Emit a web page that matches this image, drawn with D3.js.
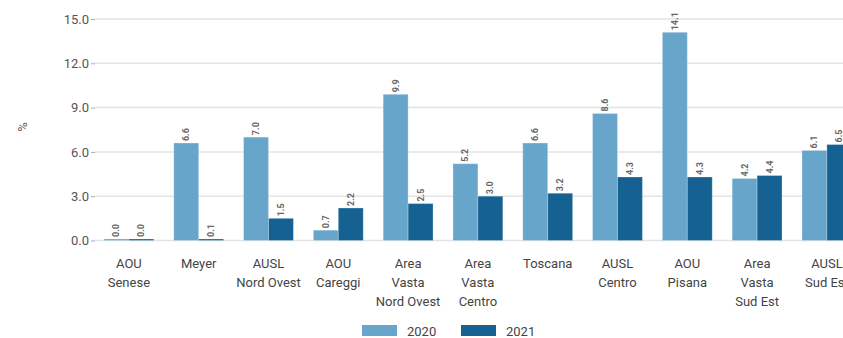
<!DOCTYPE html>
<html><head><meta charset="utf-8">
<script src="https://cdn.jsdelivr.net/npm/d3@7"></script>
<style>
html,body{margin:0;padding:0;background:#fff;}
svg{display:block;font-family:Roboto, "Open Sans", sans-serif;}
</style></head>
<body>
<svg id="c" width="843" height="338"></svg>
<script>
const categories = [["AOU","Senese"],["Meyer"],["AUSL","Nord Ovest"],["AOU","Careggi"],["Area","Vasta","Nord Ovest"],["Area","Vasta","Centro"],["Toscana"],["AUSL","Centro"],["AOU","Pisana"],["Area","Vasta","Sud Est"],["AUSL","Sud Est"]];
const values2020 = [0.04, 6.6, 7.0, 0.7, 9.9, 5.2, 6.6, 8.6, 14.1, 4.2, 6.1];
const values2021 = [0.04, 0.1, 1.5, 2.2, 2.5, 3.0, 3.2, 4.3, 4.3, 4.4, 6.5];
const seriesNames = ["2020","2021"];
const yTicks = [0, 3, 6, 9, 12, 15];
const colors = ["#68a5cb","#156192"];

const svg = d3.select("#c");
const W = 843;
const x0 = d3.scaleBand().domain(d3.range(categories.length)).range([94, 94 + 11*69.8]).paddingInner(0.286).paddingOuter(0.143);
const x1 = d3.scaleBand().domain([0,1]).range([0, x0.bandwidth()]);
const y = d3.scaleLinear().domain([0,15]).range([240.5, 19]);

// grid
svg.append("g").selectAll("line").data(yTicks).join("line")
  .attr("x1", 95).attr("x2", W).attr("y1", d=>y(d)).attr("y2", d=>y(d))
  .attr("stroke", "#e3e3e3").attr("stroke-width", 1.5);

// y axis
const ya = svg.append("g").attr("transform","translate(95,0)")
  .call(d3.axisLeft(y).tickValues(yTicks).tickFormat(d3.format(".1f")).tickSize(4).tickPadding(2));
ya.select(".domain").remove();
ya.selectAll(".tick line").attr("stroke","#aaa");
ya.selectAll("text").attr("fill","#555").style("font-size","13px").style("font-family","Roboto, sans-serif");

svg.append("text").attr("transform","translate(27,127) rotate(-90)")
  .attr("text-anchor","middle").attr("fill","#555").style("font-size","13px").text("%");

// bars
const series = [values2020, values2021];
const g = svg.append("g");
series.forEach((vals, si) => {
  g.append("g").selectAll("rect").data(vals).join("rect")
    .attr("x", (d,i)=>x0(i)+x1(si))
    .attr("width", x1.bandwidth())
    .attr("y", d=>Math.min(y(d), y(0)-1.5))
    .attr("height", d=>Math.max(y(0)-y(d), 1.5))
    .attr("fill", colors[si])
    .attr("stroke","#fff").attr("stroke-opacity",0.25).attr("stroke-width",1);
  g.append("g").selectAll("text").data(vals).join("text")
    .attr("transform", (d,i)=>`translate(${x0(i)+x1(si)+x1.bandwidth()/2+3},${Math.min(y(d), y(0)-1.5)-2}) rotate(-90)`)
    .attr("text-anchor","start")
    .attr("fill","#666").style("font-size","9px").style("font-weight","bold")
    .text(d=>d.toFixed(1));
});

// x labels
const xl = svg.append("g");
categories.forEach((lines, i) => {
  const t = xl.append("text").attr("text-anchor","middle").attr("fill","#444").style("font-size","13px");
  lines.forEach((ln, k) => {
    t.append("tspan").attr("x", x0(i)+x0.bandwidth()/2).attr("y", 268 + k*19).text(ln);
  });
});

// legend
const leg = svg.append("g");
const lx = [362, 461];
seriesNames.forEach((s, i) => {
  leg.append("rect").attr("x", lx[i]).attr("y", 325).attr("width", 35).attr("height", 11).attr("fill", colors[i]);
  leg.append("text").attr("x", lx[i]+45).attr("y", 336).attr("fill","#444").style("font-size","13px").text(s);
});
</script>
</body></html>
